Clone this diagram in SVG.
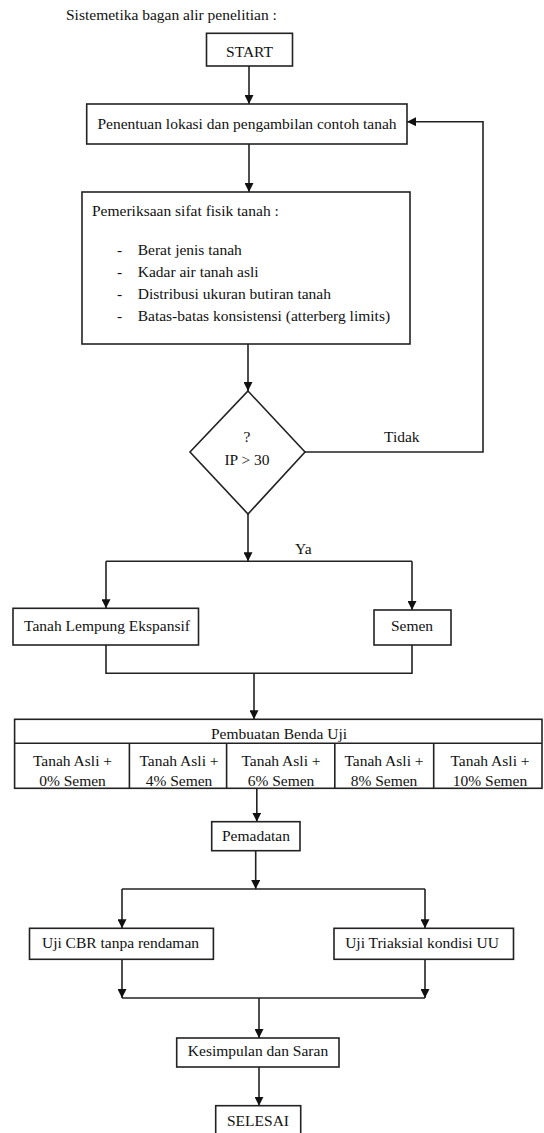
<svg xmlns="http://www.w3.org/2000/svg" width="544" height="1133" viewBox="0 0 544 1133">
<defs>
<marker id="ah" viewBox="0 0 10 10" refX="10" refY="5" markerWidth="9" markerHeight="9" markerUnits="userSpaceOnUse" orient="auto">
<path d="M0,0 L10,5 L0,10 z" fill="#111"/>
</marker>
<style>
text{font-family:"Liberation Serif","Times New Roman",serif;font-size:15.5px;fill:#111}
.c{text-anchor:middle}
.box{fill:#fff;stroke:#222;stroke-width:1.6}
.ln{fill:none;stroke:#222;stroke-width:1.6}
.ar{fill:none;stroke:#222;stroke-width:1.6;marker-end:url(#ah)}
</style>
</defs>
<rect width="544" height="1133" fill="#fff"/>
<text x="66" y="20">Sistemetika bagan alir penelitian :</text>

<g id="connectors">
<path class="ar" d="M249,66 V104"/>
<path class="ar" d="M249,144 V192"/>
<path class="ar" d="M248,344 V391"/>
<path class="ar" d="M305,452 H483 V121.7 H407"/>
<path class="ar" d="M248,514 V561.3"/>
<path class="ln" d="M106,561.3 H412"/>
<path class="ar" d="M106,561.3 V608.3"/>
<path class="ar" d="M412,561.3 V610"/>
<path class="ln" d="M106,645 V673.3 H412 V645"/>
<path class="ar" d="M254,673.3 V719.3"/>
<path class="ar" d="M256.8,788.3 V821.7"/>
<path class="ar" d="M255.7,850.7 V889"/>
<path class="ln" d="M122,889 H425"/>
<path class="ar" d="M122,889 V928.3"/>
<path class="ar" d="M425,889 V928.3"/>
<path class="ar" d="M122,959.3 V998"/>
<path class="ar" d="M425,959.3 V998"/>
<path class="ln" d="M122,998 H425"/>
<path class="ar" d="M259,998 V1038"/>
<path class="ar" d="M259,1067 V1105.7"/>
<text x="384" y="441.7">Tidak</text>
<text x="295" y="553.5">Ya</text>
</g>

<g id="start">
<rect class="box" x="206.5" y="33.3" width="86" height="32.7"/>
<text class="c" x="249.5" y="57">START</text>
</g>

<g id="penentuan">
<rect class="box" x="86.7" y="104" width="320.3" height="40"/>
<text class="c" x="247" y="129">Penentuan lokasi dan pengambilan contoh tanah</text>
</g>

<g id="pemeriksaan">
<rect class="box" x="82" y="192" width="328" height="152"/>
<text x="92" y="216">Pemeriksaan sifat fisik tanah :</text>
<text x="117" y="255">-</text><text x="137.7" y="255">Berat jenis tanah</text>
<text x="117" y="277">-</text><text x="137.7" y="277">Kadar air tanah asli</text>
<text x="117" y="299">-</text><text x="137.7" y="299">Distribusi ukuran butiran tanah</text>
<text x="117" y="320.5">-</text><text x="137.7" y="320.5">Batas-batas konsistensi (atterberg limits)</text>
</g>

<g id="decision">
<polygon class="box" points="248,391 305,452 248,514 190,452"/>
<text class="c" x="247" y="442.3">?</text>
<text class="c" x="247" y="465">IP &gt; 30</text>
</g>

<g id="tanah-lempung">
<rect class="box" x="13" y="608.3" width="185.5" height="36.7"/>
<text class="c" x="107" y="630.7">Tanah Lempung Ekspansif</text>
</g>

<g id="semen">
<rect class="box" x="374" y="610" width="77" height="35"/>
<text class="c" x="412" y="630.7">Semen</text>
</g>

<g id="benda-uji">
<rect class="box" x="14.6" y="719.3" width="527.4" height="69"/>
<path class="ln" d="M14.6,743.3 H542 M129.4,743.3 V788.3 M226.6,743.3 V788.3 M334.8,743.3 V788.3 M433.7,743.3 V788.3"/>
<text class="c" x="279" y="739.3">Pembuatan Benda Uji</text>
<text class="c" x="72.5" y="766">Tanah Asli +</text><text class="c" x="72.5" y="786">0% Semen</text>
<text class="c" x="179" y="766">Tanah Asli +</text><text class="c" x="179" y="786">4% Semen</text>
<text class="c" x="281" y="766">Tanah Asli +</text><text class="c" x="281" y="786">6% Semen</text>
<text class="c" x="384" y="766">Tanah Asli +</text><text class="c" x="384" y="786">8% Semen</text>
<text class="c" x="490" y="766">Tanah Asli +</text><text class="c" x="490" y="786">10% Semen</text>
</g>

<g id="pemadatan">
<rect class="box" x="211.7" y="821.7" width="88.3" height="29"/>
<text class="c" x="256" y="840.7">Pemadatan</text>
</g>

<g id="uji-cbr">
<rect class="box" x="29.5" y="928.3" width="183.9" height="31"/>
<text class="c" x="120.5" y="948.3">Uji CBR tanpa rendaman</text>
</g>

<g id="uji-triaksial">
<rect class="box" x="334" y="928.3" width="179.5" height="31"/>
<text class="c" x="422" y="948.3">Uji Triaksial kondisi UU</text>
</g>

<g id="kesimpulan">
<rect class="box" x="176.7" y="1038" width="162.3" height="29"/>
<text class="c" x="258" y="1055.7">Kesimpulan dan Saran</text>
</g>

<g id="selesai">
<rect class="box" x="215.7" y="1105.7" width="85" height="35"/>
<text class="c" x="258" y="1126">SELESAI</text>
</g>
</svg>
